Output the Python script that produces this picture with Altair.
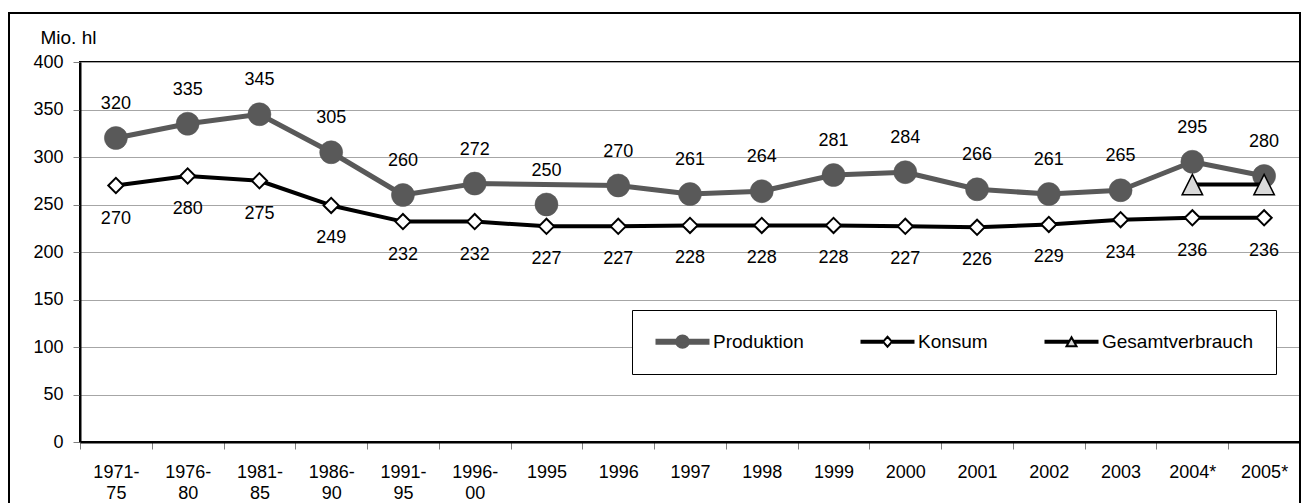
import altair as alt
import pandas as pd

categories = ["1971-75", "1976-80", "1981-85", "1986-90", "1991-95", "1996-00",
              "1995", "1996", "1997", "1998", "1999", "2000", "2001", "2002",
              "2003", "2004*", "2005*"]
produktion = [320, 335, 345, 305, 260, 272, 250, 270, 261, 264, 281, 284, 266, 261, 265, 295, 280]
# the Produktion line skips the 1995 value (shown as a lone marker)
produktion_linked = [True, True, True, True, True, True, False, True, True, True,
                     True, True, True, True, True, True, True]
konsum = [270, 280, 275, 249, 232, 232, 227, 227, 228, 228, 228, 227, 226, 229, 234, 236, 236]
gesamtverbrauch = [None, None, None, None, None, None, None, None, None, None,
                   None, None, None, None, None, 271, 271]
series_names = ["Produktion", "Konsum", "Gesamtverbrauch"]
y_ticks = [0, 50, 100, 150, 200, 250, 300, 350, 400]

rows = []
for i, c in enumerate(categories):
    rows.append({"cat": c, "series": "Produktion", "value": produktion[i], "linked": produktion_linked[i]})
    rows.append({"cat": c, "series": "Konsum", "value": konsum[i], "linked": True})
    if gesamtverbrauch[i] is not None:
        rows.append({"cat": c, "series": "Gesamtverbrauch", "value": gesamtverbrauch[i], "linked": True})
df = pd.DataFrame(rows)

# hidden helper rows that only feed the legend (placed outside the y domain and clipped)
legend_df = pd.DataFrame({"cat": [categories[0]] * 3, "series": series_names, "value": [-1000] * 3})

FONT = "Liberation Sans"
W, H = 1220, 380

x_axis = alt.Axis(
    title=None, labelAngle=0, tickBand="extent", tickSize=7, tickColor="#808080",
    domainColor="black", domainWidth=2, labelFontSize=18, labelFont=FONT,
    labelColor="black", labelPadding=14, labelLineHeight=21, labelOverlap=False,
    labelFlush=False, labelBaseline="top",
    labelExpr="indexof(datum.label, '-') > 0 ? [split(datum.label, '-')[0] + '-', split(datum.label, '-')[1]] : datum.label",
)
y_axis = alt.Axis(
    values=y_ticks, grid=True, gridColor="#a6a6a6", gridWidth=1, tickSize=7,
    tickColor="#808080", domainColor="black", domainWidth=2, labelFontSize=18,
    labelFont=FONT, labelColor="black", labelPadding=10,
    title="Mio. hl", titleAngle=0, titleX=-40, titleY=-25, titleAlign="left",
    titleBaseline="middle", titleFontSize=19, titleFontWeight="normal",
    titleFont=FONT, titleColor="black",
)

x = alt.X("cat:N", scale=alt.Scale(type="band", domain=categories, paddingInner=0, paddingOuter=0),
          bandPosition=0.5, axis=x_axis)
y = alt.Y("value:Q", scale=alt.Scale(domain=[0, 400], nice=False, zero=True), axis=y_axis)

# legend glyphs: drawn in pixels relative to the glyph's left edge (0..54) and vertical centre,
# then converted to Vega's custom-symbol units (symbol size 256 -> 8 px per unit, centre at x=8)
SYM_SIZE = 256
U = 8.0


def _pt(px, py):
    return f"{(px - U) / U:.4f},{py / U:.4f}"


def _rect(x0, x1, hh):
    return f"M{_pt(x0, -hh)}L{_pt(x1, -hh)}L{_pt(x1, hh)}L{_pt(x0, hh)}Z"


def _circle(cx, r):
    k = 0.5523 * r
    return (f"M{_pt(cx + r, 0)}C{_pt(cx + r, k)} {_pt(cx + k, r)} {_pt(cx, r)}"
            f"C{_pt(cx - k, r)} {_pt(cx - r, k)} {_pt(cx - r, 0)}"
            f"C{_pt(cx - r, -k)} {_pt(cx - k, -r)} {_pt(cx, -r)}"
            f"C{_pt(cx + k, -r)} {_pt(cx + r, -k)} {_pt(cx + r, 0)}Z")


P = _rect(1, 53, 2) + " " + _circle(27, 6.2)
K = (_rect(1, 21.5, 1) + " " + _rect(32.5, 53, 1) + " "
     + f"M{_pt(27, -5)}L{_pt(31.5, 0)}L{_pt(27, 5)}L{_pt(22.5, 0)}Z")
G = (_rect(1, 23.5, 1) + " " + _rect(30.5, 53, 1) + " "
     + f"M{_pt(27, -4.5)}L{_pt(32, 4.5)}L{_pt(22, 4.5)}Z")


def make_legend():
    return alt.Legend(
        title=None, orient="none", legendX=552, legendY=248, direction="horizontal",
        symbolSize=SYM_SIZE, symbolStrokeWidth=2, symbolOpacity=1, labelFontSize=19, labelFont=FONT,
        labelColor="black", labelOffset=40, labelLimit=400, columnPadding=53,
        padding=22, fillColor="white", strokeColor="black",
    )


base = alt.Chart(df)

frame = alt.Chart(pd.DataFrame({"k": [0]})).mark_rect(
    fill="transparent", stroke="black", strokeWidth=2
).encode(x=alt.value(-71), x2=alt.value(W), y=alt.value(-49), y2=alt.value(H + 120))

prod_line = base.transform_filter("datum.series === 'Produktion' && datum.linked").mark_line(
    color="#595959", strokeWidth=5, strokeJoin="round", strokeCap="round"
).encode(x=x, y=y)
kons_line = base.transform_filter("datum.series === 'Konsum'").mark_line(
    color="#000000", strokeWidth=4, strokeJoin="round", strokeCap="round"
).encode(x=x, y=y)
ges_line = base.transform_filter("datum.series === 'Gesamtverbrauch'").mark_line(
    color="#000000", strokeWidth=4, strokeJoin="round", strokeCap="round"
).encode(x=x, y=y)

prod_pts = base.transform_filter("datum.series === 'Produktion'").mark_point(
    shape="circle", filled=True, size=530, fill="#595959", stroke="#595959", strokeWidth=0.5, opacity=1
).encode(x=x, y=y)

kons_pts = base.transform_filter("datum.series === 'Konsum'").mark_point(
    shape="diamond", filled=True, size=230, fill="white", stroke="black", strokeWidth=2, opacity=1
).encode(x=x, y=y)

ges_pts = base.transform_filter("datum.series === 'Gesamtverbrauch'").mark_point(
    shape="M0,-1L1,1L-1,1Z", filled=True, size=420, fill="#d9d9d9", stroke="black", strokeWidth=1.5, opacity=1
).encode(x=x, y=y)

legend_layer = alt.Chart(legend_df).mark_point(
    filled=True, size=SYM_SIZE, strokeWidth=2, opacity=1, clip=True
).encode(
    x=x, y=y,
    shape=alt.Shape("series:N", scale=alt.Scale(domain=series_names, range=[P, K, G]), legend=make_legend()),
    fill=alt.Fill("series:N", scale=alt.Scale(domain=series_names, range=["#595959", "#ffffff", "#d9d9d9"]),
                  legend=make_legend()),
    stroke=alt.Stroke("series:N", scale=alt.Scale(domain=series_names, range=["#595959", "#000000", "#000000"]),
                      legend=make_legend()),
)

prod_txt = base.transform_filter("datum.series === 'Produktion'").mark_text(
    dy=-34, fontSize=18, font=FONT, color="black", baseline="middle", align="center"
).encode(x=x, y=y, text=alt.Text("value:Q"))

kons_txt = base.transform_filter("datum.series === 'Konsum'").mark_text(
    dy=33, fontSize=18, font=FONT, color="black", baseline="middle", align="center"
).encode(x=x, y=y, text=alt.Text("value:Q"))

chart = alt.layer(
    frame, prod_line, prod_pts, kons_line, kons_pts, ges_line, ges_pts, legend_layer, prod_txt, kons_txt
).properties(
    width=W, height=H,
    autosize=alt.AutoSizeParams(type="none"),
    padding={"left": 72, "top": 54, "right": 1, "bottom": 61},
    background="white",
).configure(font=FONT).configure_view(stroke="black", strokeWidth=2)

chart.save("out.html", embed_options={"renderer": "svg", "actions": False})
